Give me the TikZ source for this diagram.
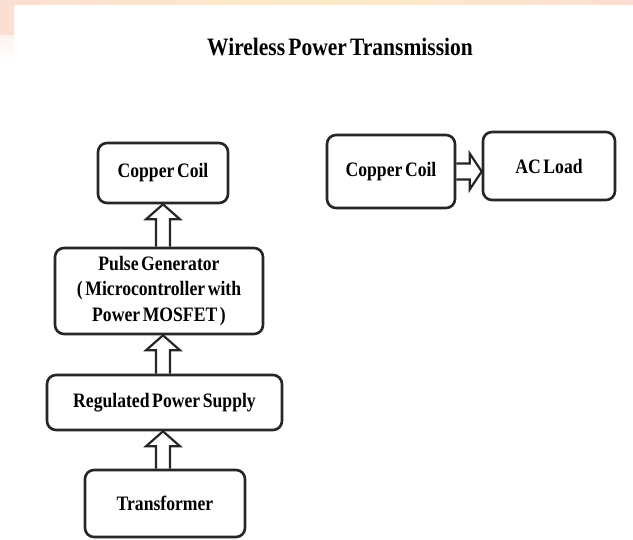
\documentclass[tikz,border=0pt]{standalone}
\usepackage{fontspec}
\setmainfont{Liberation Serif}[FakeStretch=0.86,WordSpace={0.6},BoldFont={Liberation Serif Bold}]
\usetikzlibrary{calc}
\definecolor{peach}{HTML}{FBDFD2}
\definecolor{cream}{HTML}{FDEBC8}
\begin{document}
\begin{tikzpicture}[x=1pt,y=-1pt,
  box/.style={draw=black!85, line width=2.6pt, rounded corners=9pt, inner sep=0pt, align=center, font=\bfseries\fontsize{20.5}{25.5}\selectfont},
  hollow/.style={draw=black!85, line width=2.2pt, line join=miter}]
\useasboundingbox (0,0) rectangle (633,540);
\fill[white] (0,0) rectangle (633,540);
% decorative top band and left strip
\shade[left color=peach, right color=cream] (0,0) rectangle (320,5);
\shade[left color=cream, right color=peach] (320,0) rectangle (633,5);
\shade[top color=peach, bottom color=white] (0,0) rectangle (14,60);
\fill[peach] (0,0) rectangle (14,35);
% title
\node[font=\bfseries\fontsize{25}{29}\selectfont] (title) at (340,47) {Wireless Power Transmission};
% left column
\node[box, minimum width=130pt, minimum height=60pt] (cc1) at (163,173) {Copper Coil};
\node[box, minimum width=208pt, minimum height=86pt] (pg) at (159,291) {Pulse Generator\\( Microcontroller with\\Power MOSFET )};
\node[box, minimum width=235pt, minimum height=55pt] (rps) at (164.5,402.5) {Regulated Power Supply};
\node[box, minimum width=160pt, minimum height=67pt] (tr) at (165,503.5) {Transformer};
% right pair
\node[box, minimum width=128pt, minimum height=73pt] (cc2) at (391,171.5) {Copper Coil};
\node[box, minimum width=132pt, minimum height=68pt] (ac) at (549,166) {AC Load};
% hollow arrows
\foreach \a/\b in {pg/cc1, rps/pg, tr/rps}{
  \draw[hollow] ($(\a.north -| 163,0)+(-7,0)$) -- ($(\b.south -| 163,0)+(-7,15)$) -- ($(\b.south -| 163,0)+(-17,15)$)
    -- (\b.south -| 163,0) -- ($(\b.south -| 163,0)+(17,15)$) -- ($(\b.south -| 163,0)+(7,15)$) -- ($(\a.north -| 163,0)+(7,0)$);
}
\draw[hollow] ($(cc2.east |- 0,171.5)+(0,-8)$) -- ($(ac.west |- 0,171.5)+(-12,-8)$) -- ($(ac.west |- 0,171.5)+(-12,-18)$)
  -- (ac.west |- 0,171.5) -- ($(ac.west |- 0,171.5)+(-12,18)$) -- ($(ac.west |- 0,171.5)+(-12,8)$) -- ($(cc2.east |- 0,171.5)+(0,8)$);
\end{tikzpicture}
\end{document}
